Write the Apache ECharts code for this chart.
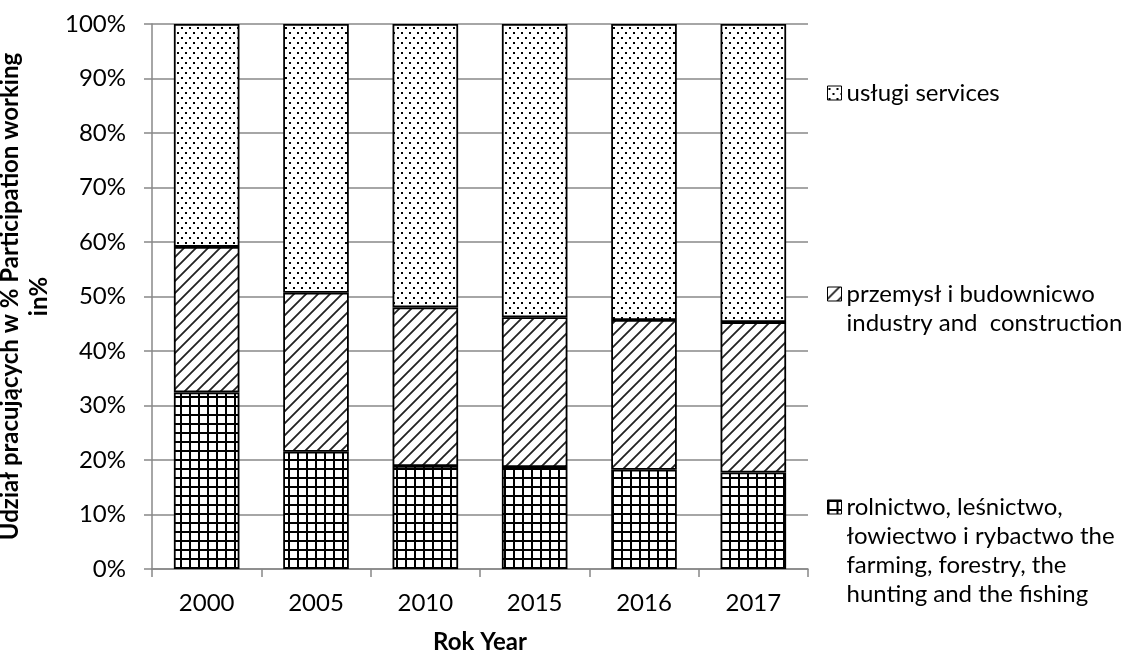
<!DOCTYPE html>
<html>
<head>
<meta charset="utf-8">
<script src="https://cdn.jsdelivr.net/npm/echarts@6/dist/echarts.min.js"></script>
<style>
html,body{margin:0;padding:0;background:#fff;}
#chart{width:1133px;height:653px;}
</style>
</head>
<body>
<div id="chart"></div>
<script>
// ---- data ----
const years = ['2000', '2005', '2010', '2015', '2016', '2017'];
const farming = [32.4, 21.5, 18.9, 18.7, 18.2, 17.7];
const industry = [26.7, 29.2, 29.1, 27.5, 27.5, 27.6];
const services = [40.9, 49.3, 52.0, 53.8, 54.3, 54.7];
const seriesNames = [
  'rolnictwo, leśnictwo,\nłowiectwo i rybactwo the\nfarming, forestry, the\nhunting and the fishing',
  'przemysł i budownicwo\nindustry and  construction',
  'usługi services'
];
const yTickLabels = ['0%','10%','20%','30%','40%','50%','60%','70%','80%','90%','100%'];
const yTitle = 'Udział pracujących w % Participation working\nin%';
const xTitle = 'Rok Year';

// ---- patterns ----
function makeCanvas(w, h, draw) {
  const c = document.createElement('canvas');
  c.width = w; c.height = h;
  const ctx = c.getContext('2d');
  ctx.fillStyle = '#fff';
  ctx.fillRect(0, 0, w, h);
  draw(ctx, w, h);
  return c;
}
const dotPattern = makeCanvas(8, 10, function (ctx) {
  ctx.fillStyle = '#000';
  ctx.fillRect(1, 2, 2, 2);
  ctx.fillRect(5, 7, 2, 2);
});
const diagPattern = makeCanvas(12, 12, function (ctx, w, h) {
  ctx.strokeStyle = '#222';
  ctx.lineWidth = 1.8;
  ctx.beginPath();
  ctx.moveTo(-2, h + 2); ctx.lineTo(w + 2, -2);
  ctx.moveTo(-2 - w, h + 2); ctx.lineTo(2, -2);
  ctx.moveTo(w - 2, h + 2); ctx.lineTo(2 * w + 2, -2);
  ctx.stroke();
});
const gridPattern = makeCanvas(9, 9, function (ctx) {
  ctx.fillStyle = '#000';
  ctx.fillRect(0, 0, 2, 9);
  ctx.fillRect(0, 0, 9, 2);
});
const patterns = [gridPattern, diagPattern, dotPattern];
const dataSets = [farming, industry, services];

const FONT = 'Lato';
const FS = 24;
const LH = 29;

const chart = echarts.init(document.getElementById('chart'), null, {renderer: 'canvas'});

const series = dataSets.map(function (d, i) {
  return {
    name: seriesNames[i],
    type: 'bar',
    stack: 'total',
    data: d,
    barCategoryGap: '40%',
    itemStyle: {
      color: {image: patterns[i], repeat: 'repeat'},
      borderColor: '#000',
      borderWidth: 1.8
    },
    emphasis: {disabled: true}
  };
});

const legendCenters = [507, 294, 93];
const legends = seriesNames.map(function (n, i) {
  const lines = n.split('\n').length;
  return {
    data: [n],
    orient: 'vertical',
    left: 827,
    top: legendCenters[i] - (2 * lines - 1) * LH / 2,
    padding: 0,
    itemWidth: 14,
    itemHeight: 14,
    itemGap: 4,
    icon: 'rect',
    selectedMode: false,
    formatter: function (name) {
      return '\n'.repeat(lines - 1) + name;
    },
    itemStyle: {borderColor: '#000', borderWidth: 1},
    textStyle: {
      fontFamily: FONT, fontSize: FS, color: '#000',
      lineHeight: LH
    }
  };
});

chart.setOption({
  animation: false,
  textStyle: {fontFamily: FONT},
  grid: {left: 152, right: 325, top: 24, bottom: 84, containLabel: false, outerBoundsMode: 'none'},
  legend: legends,
  xAxis: {
    type: 'category',
    data: years,
    name: xTitle,
    nameLocation: 'middle',
    nameGap: 61,
    nameTextStyle: {fontFamily: FONT, fontSize: FS, fontWeight: 'bold', color: '#000'},
    axisLine: {lineStyle: {color: '#888', width: 1.5}},
    axisTick: {show: true, length: 8, lineStyle: {color: '#888', width: 1.5}},
    axisLabel: {fontFamily: FONT, fontSize: FS, color: '#000', margin: 22}
  },
  yAxis: {
    type: 'value',
    min: 0,
    max: 100,
    interval: 10,
    name: yTitle,
    nameLocation: 'middle',
    nameRotate: 90,
    nameGap: 85,
    nameTextStyle: {fontFamily: FONT, fontSize: 24, fontWeight: 'bold', color: '#000', lineHeight: 29},
    axisLine: {show: true, lineStyle: {color: '#888', width: 1.5}},
    axisTick: {show: true, length: 8, lineStyle: {color: '#888', width: 1.5}},
    splitLine: {show: true, lineStyle: {color: '#888', width: 1.5}},
    axisLabel: {
      fontFamily: FONT, fontSize: FS, color: '#000', margin: 26,
      formatter: function (v) { return yTickLabels[Math.round(v / 10)]; }
    }
  },
  series: series
});
</script>
</body>
</html>
